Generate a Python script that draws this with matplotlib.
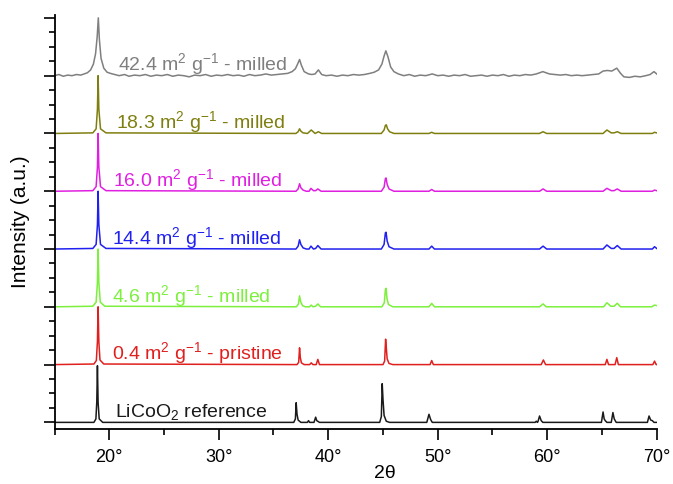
import matplotlib
matplotlib.use("Agg")
import matplotlib.pyplot as plt
from matplotlib.ticker import MultipleLocator, FixedLocator

plt.rcParams["font.family"] = ["Liberation Sans", "DejaVu Sans"]
plt.rcParams["mathtext.fontset"] = "custom"
plt.rcParams["mathtext.rm"] = "Liberation Sans"
plt.rcParams["mathtext.it"] = "Liberation Sans:italic"
plt.rcParams["mathtext.bf"] = "Liberation Sans:bold"

# ---- data (2theta in degrees, intensity in a.u., each pattern normalised to its 19 deg peak) ----

# LiCoO2 reference
ref_tt = [15, 18.6, 18.78, 18.86, 18.92, 18.98, 19.08, 19.4,
          36.85, 37.0, 37.07, 37.15, 37.25, 37.5, 38.1, 38.2, 38.3, 38.7, 38.85, 38.95, 39.2,
          44.7, 44.85, 44.93, 45.0, 45.1, 45.3, 45.6, 49.0, 49.2, 49.35, 49.5,
          58.9, 59.0, 59.1, 59.15, 59.3, 59.45, 59.6, 64.95, 65.1, 65.2, 65.3, 65.45,
          65.85, 66.0, 66.12, 66.3, 69.15, 69.3, 69.45, 69.6, 69.75, 70]
ref_int = [0, 0, 0.06, 0.35, 0.98, 0.35, 0.06, 0,
           0, 0.06, 0.34, 0.14, 0.04, 0, 0, 0.03, 0, 0, 0.09, 0.03, 0,
           0, 0.1, 0.67, 0.4, 0.12, 0.02, 0, 0, 0.14, 0.05, 0,
           0, 0.02, 0, 0.01, 0.11, 0.03, 0, 0, 0.18, 0.06, 0.03, 0,
           0, 0.17, 0.06, 0, 0, 0.11, 0.04, 0.03, 0, 0]

# 0.4 m2/g pristine
pri_tt = [15, 18.6, 18.82, 18.92, 18.98, 19.05, 19.15, 19.5,
          37.15, 37.3, 37.38, 37.45, 37.55, 37.8, 38.3, 38.45, 38.6, 38.9, 39.05, 39.2,
          45.0, 45.15, 45.24, 45.3, 45.38, 45.55, 45.9, 49.3, 49.45, 49.6,
          59.45, 59.65, 59.85, 65.3, 65.45, 65.6, 66.2, 66.35, 66.5, 69.65, 69.8, 69.95, 70]
pri_int = [0, 0.01, 0.07, 0.4, 1.0, 0.4, 0.08, 0.01,
           0, 0.04, 0.29, 0.12, 0.03, 0, 0, 0.03, 0, 0, 0.09, 0,
           0, 0.06, 0.44, 0.3, 0.1, 0.02, 0, 0, 0.07, 0,
           0, 0.08, 0, 0, 0.09, 0, 0, 0.12, 0, 0, 0.06, 0, 0]

# 4.6 m2/g milled
m46_tt = [15, 18.5, 18.8, 18.92, 18.98, 19.05, 19.18, 19.6,
          37.1, 37.28, 37.38, 37.48, 37.65, 37.9, 38.3, 38.45, 38.6, 38.85, 39.05, 39.3,
          44.9, 45.12, 45.22, 45.28, 45.36, 45.5, 45.9, 49.2, 49.45, 49.7,
          59.3, 59.62, 59.9, 65.15, 65.45, 65.8, 66.1, 66.4, 66.7, 69.55, 69.8, 70]
m46_int = [0, 0.01, 0.08, 0.42, 1.0, 0.42, 0.08, 0.01,
           0, 0.05, 0.19, 0.09, 0.02, 0, 0, 0.03, 0, 0.01, 0.05, 0,
           0, 0.07, 0.3, 0.32, 0.15, 0.04, 0, 0, 0.06, 0,
           0, 0.05, 0, 0, 0.07, 0.01, 0.01, 0.06, 0, 0, 0.03, 0.02]

# 14.4 m2/g milled
m144_tt = [15, 18.5, 18.8, 18.92, 18.98, 19.05, 19.2, 19.7,
           37.05, 37.25, 37.38, 37.5, 37.7, 38.0, 38.25, 38.42, 38.65, 38.85, 39.05, 39.35,
           44.85, 45.1, 45.22, 45.28, 45.38, 45.55, 46.0, 49.2, 49.45, 49.7,
           59.3, 59.62, 59.95, 65.1, 65.45, 65.85, 66.1, 66.4, 66.75, 69.6, 69.8, 70]
m144_int = [0, 0.01, 0.08, 0.42, 1.0, 0.42, 0.08, 0.01,
            0, 0.05, 0.16, 0.08, 0.02, 0, 0, 0.05, 0, 0.01, 0.06, 0,
            0, 0.08, 0.28, 0.29, 0.14, 0.04, 0, 0, 0.05, 0,
            0, 0.05, 0, 0, 0.07, 0.01, 0.01, 0.06, 0, 0, 0.04, 0.01]

# 16.0 m2/g milled
m160_tt = [15, 18.5, 18.8, 18.92, 18.98, 19.05, 19.2, 19.7,
           37.05, 37.25, 37.38, 37.5, 37.7, 38.0, 38.25, 38.42, 38.65, 38.85, 39.05, 39.35,
           44.85, 45.1, 45.22, 45.28, 45.38, 45.55, 46.0, 49.2, 49.45, 49.7,
           59.3, 59.62, 59.95, 65.1, 65.45, 65.85, 66.1, 66.4, 66.75, 69.6, 69.8, 70]
m160_int = [0, 0.01, 0.08, 0.42, 1.0, 0.42, 0.08, 0.01,
            0, 0.04, 0.13, 0.06, 0.02, 0, 0, 0.05, 0.01, 0.01, 0.04, 0,
            0, 0.07, 0.22, 0.23, 0.12, 0.04, 0, 0, 0.03, 0,
            0, 0.04, 0, 0, 0.05, 0.01, 0.01, 0.04, 0, 0, 0.02, 0.01]

# 18.3 m2/g milled
m183_tt = [15, 18.5, 18.8, 18.92, 18.98, 19.05, 19.2, 19.7,
           37.05, 37.25, 37.38, 37.5, 37.7, 38.1, 38.45, 38.8, 39.1, 39.4,
           44.85, 45.1, 45.22, 45.3, 45.42, 45.6, 46.0, 49.2, 49.45, 49.7,
           59.3, 59.62, 59.95, 65.1, 65.45, 65.85, 66.1, 66.4, 66.75, 69.6, 69.8, 70]
m183_int = [0, 0.01, 0.08, 0.42, 1.0, 0.42, 0.08, 0.01,
            0, 0.03, 0.08, 0.04, 0.01, 0, 0.06, 0, 0.03, 0,
            0, 0.06, 0.14, 0.15, 0.08, 0.03, 0, 0, 0.02, 0,
            0, 0.03, 0, 0, 0.06, 0.01, 0.01, 0.03, 0, 0, 0.02, 0.01]

# 42.4 m2/g milled (broad, noisy)
m424_tt = [15, 15.4, 15.8, 16.2, 16.6, 17.0, 17.4, 17.7, 18.0, 18.3, 18.55, 18.75, 18.9, 19.0,
           19.1, 19.25, 19.5, 19.8, 20.1, 20.5, 20.9, 21.4, 21.8, 22.3, 22.8, 23.3, 23.8, 24.3,
           24.8, 25.3, 25.8, 26.3, 26.8, 27.3, 27.8, 28.3, 28.8, 29.3, 29.8, 30.3, 30.8, 31.3,
           31.8, 32.3, 32.8, 33.3, 33.8, 34.3, 34.8, 35.3, 35.8, 36.3, 36.7, 37.0, 37.2, 37.38,
           37.55, 37.8, 38.2, 38.5, 38.8, 39.1, 39.4, 39.8, 40.3, 40.8, 41.3, 41.8, 42.3, 42.8,
           43.3, 43.8, 44.2, 44.6, 44.9, 45.1, 45.26, 45.45, 45.7, 46.0, 46.4, 46.9, 47.4, 47.9,
           48.4, 48.9, 49.5, 50.0, 50.5, 51.0, 51.5, 52.0, 52.5, 53.0, 53.5, 54.0, 54.5, 55.0,
           55.5, 56.0, 56.5, 57.0, 57.5, 58.0, 58.5, 59.0, 59.6, 60.2, 60.7, 61.2, 61.7, 62.2,
           62.7, 63.2, 63.7, 64.2, 64.7, 65.1, 65.5, 65.9, 66.35, 66.7, 67.0, 67.5, 68.0, 68.5,
           69.0, 69.4, 69.75, 70]
m424_int = [0.0, 0.02, -0.01, 0.01, 0.0, 0.02, 0.01, 0.03, 0.05, 0.1, 0.2, 0.38, 0.68, 1.0,
            0.62, 0.3, 0.13, 0.06, 0.04, 0.02, 0.0, 0.02, -0.01, 0.01, 0.0, 0.02, -0.01, 0.01,
            0.0, 0.02, -0.01, 0.01, 0.0, -0.02, 0.01, 0.0, 0.02, -0.01, 0.01, 0.0, 0.02, 0.0,
            0.01, -0.01, 0.02, 0.0, 0.01, 0.03, 0.01, 0.02, 0.03, 0.04, 0.07, 0.12, 0.2, 0.28,
            0.18, 0.07, 0.03, 0.02, 0.03, 0.1, 0.02, 0.0, 0.01, -0.01, 0.01, 0.0, 0.02, 0.01,
            0.02, 0.04, 0.06, 0.1, 0.2, 0.34, 0.43, 0.33, 0.15, 0.07, 0.03, 0.0, 0.02, -0.01,
            0.01, 0.0, 0.03, 0.0, 0.01, -0.01, 0.01, 0.0, 0.02, -0.01, 0.0, 0.01, -0.01, 0.01,
            0.0, 0.02, -0.01, 0.01, 0.0, 0.02, 0.01, 0.03, 0.07, 0.03, 0.02, 0.01, 0.02, 0.0,
            0.01, 0.0, 0.01, 0.02, 0.03, 0.08, 0.09, 0.08, 0.13, 0.04, -0.02, -0.03, -0.01, -0.02,
            0.0, 0.02, 0.07, 0.03]

series_tt = [ref_tt, pri_tt, m46_tt, m144_tt, m160_tt, m183_tt, m424_tt]
series_int = [ref_int, pri_int, m46_int, m144_int, m160_int, m183_int, m424_int]
series_colors = ["#1a1a1a", "#e0201e", "#7cf03c", "#2020f0", "#e020e0", "#7f7f10", "#7f7f7f"]
series_labels = [r"LiCoO$_2$ reference",
                 r"0.4 m$^2$ g$^{-1}$ - pristine",
                 r"4.6 m$^2$ g$^{-1}$ - milled",
                 r"14.4 m$^2$ g$^{-1}$ - milled",
                 r"16.0 m$^2$ g$^{-1}$ - milled",
                 r"18.3 m$^2$ g$^{-1}$ - milled",
                 r"42.4 m$^2$ g$^{-1}$ - milled"]
label_x = [20.5, 20.28, 20.25, 20.25, 20.35, 20.6, 20.77]

# ---- plot ----
fig = plt.figure(figsize=(6.73, 4.84), dpi=100)
ax = fig.add_axes([0.081, 0.113, 0.8948, 0.856])

for i in range(len(series_tt)):
    y = [v + i for v in series_int[i]]
    ax.plot(series_tt[i], y, color=series_colors[i], lw=1.1)
    ax.text(label_x[i], i + 0.09, series_labels[i], color=series_colors[i],
            fontsize=14, va="baseline", ha="left")

ax.set_xlim(15, 70)
ax.set_ylim(-0.12, 7.05)

for s in ["top", "right"]:
    ax.spines[s].set_visible(False)
for s in ["left", "bottom"]:
    ax.spines[s].set_linewidth(1.3)

ax.xaxis.set_minor_locator(MultipleLocator(5))
ax.set_xticks([20, 30, 40, 50, 60, 70])
ax.set_xticklabels(["20°", "30°", "40°", "50°", "60°", "70°"], fontsize=13)
ax.yaxis.set_major_locator(FixedLocator([0, 1, 2, 3, 4, 5, 6, 7]))
ax.yaxis.set_minor_locator(MultipleLocator(0.25))
ax.set_yticklabels([])
ax.tick_params(which="major", direction="out", length=8, width=1.2)
ax.tick_params(which="minor", direction="out", length=4, width=1.2)
ax.tick_params(axis="x", pad=6)

ax.set_ylabel("Intensity (a.u.)", fontsize=15)
ax.yaxis.set_label_coords(-0.04, 0.5)
ax.set_xlabel("2θ", fontsize=14)
ax.xaxis.set_label_coords(0.549, -0.085)

fig.savefig("out.png", dpi=100)
